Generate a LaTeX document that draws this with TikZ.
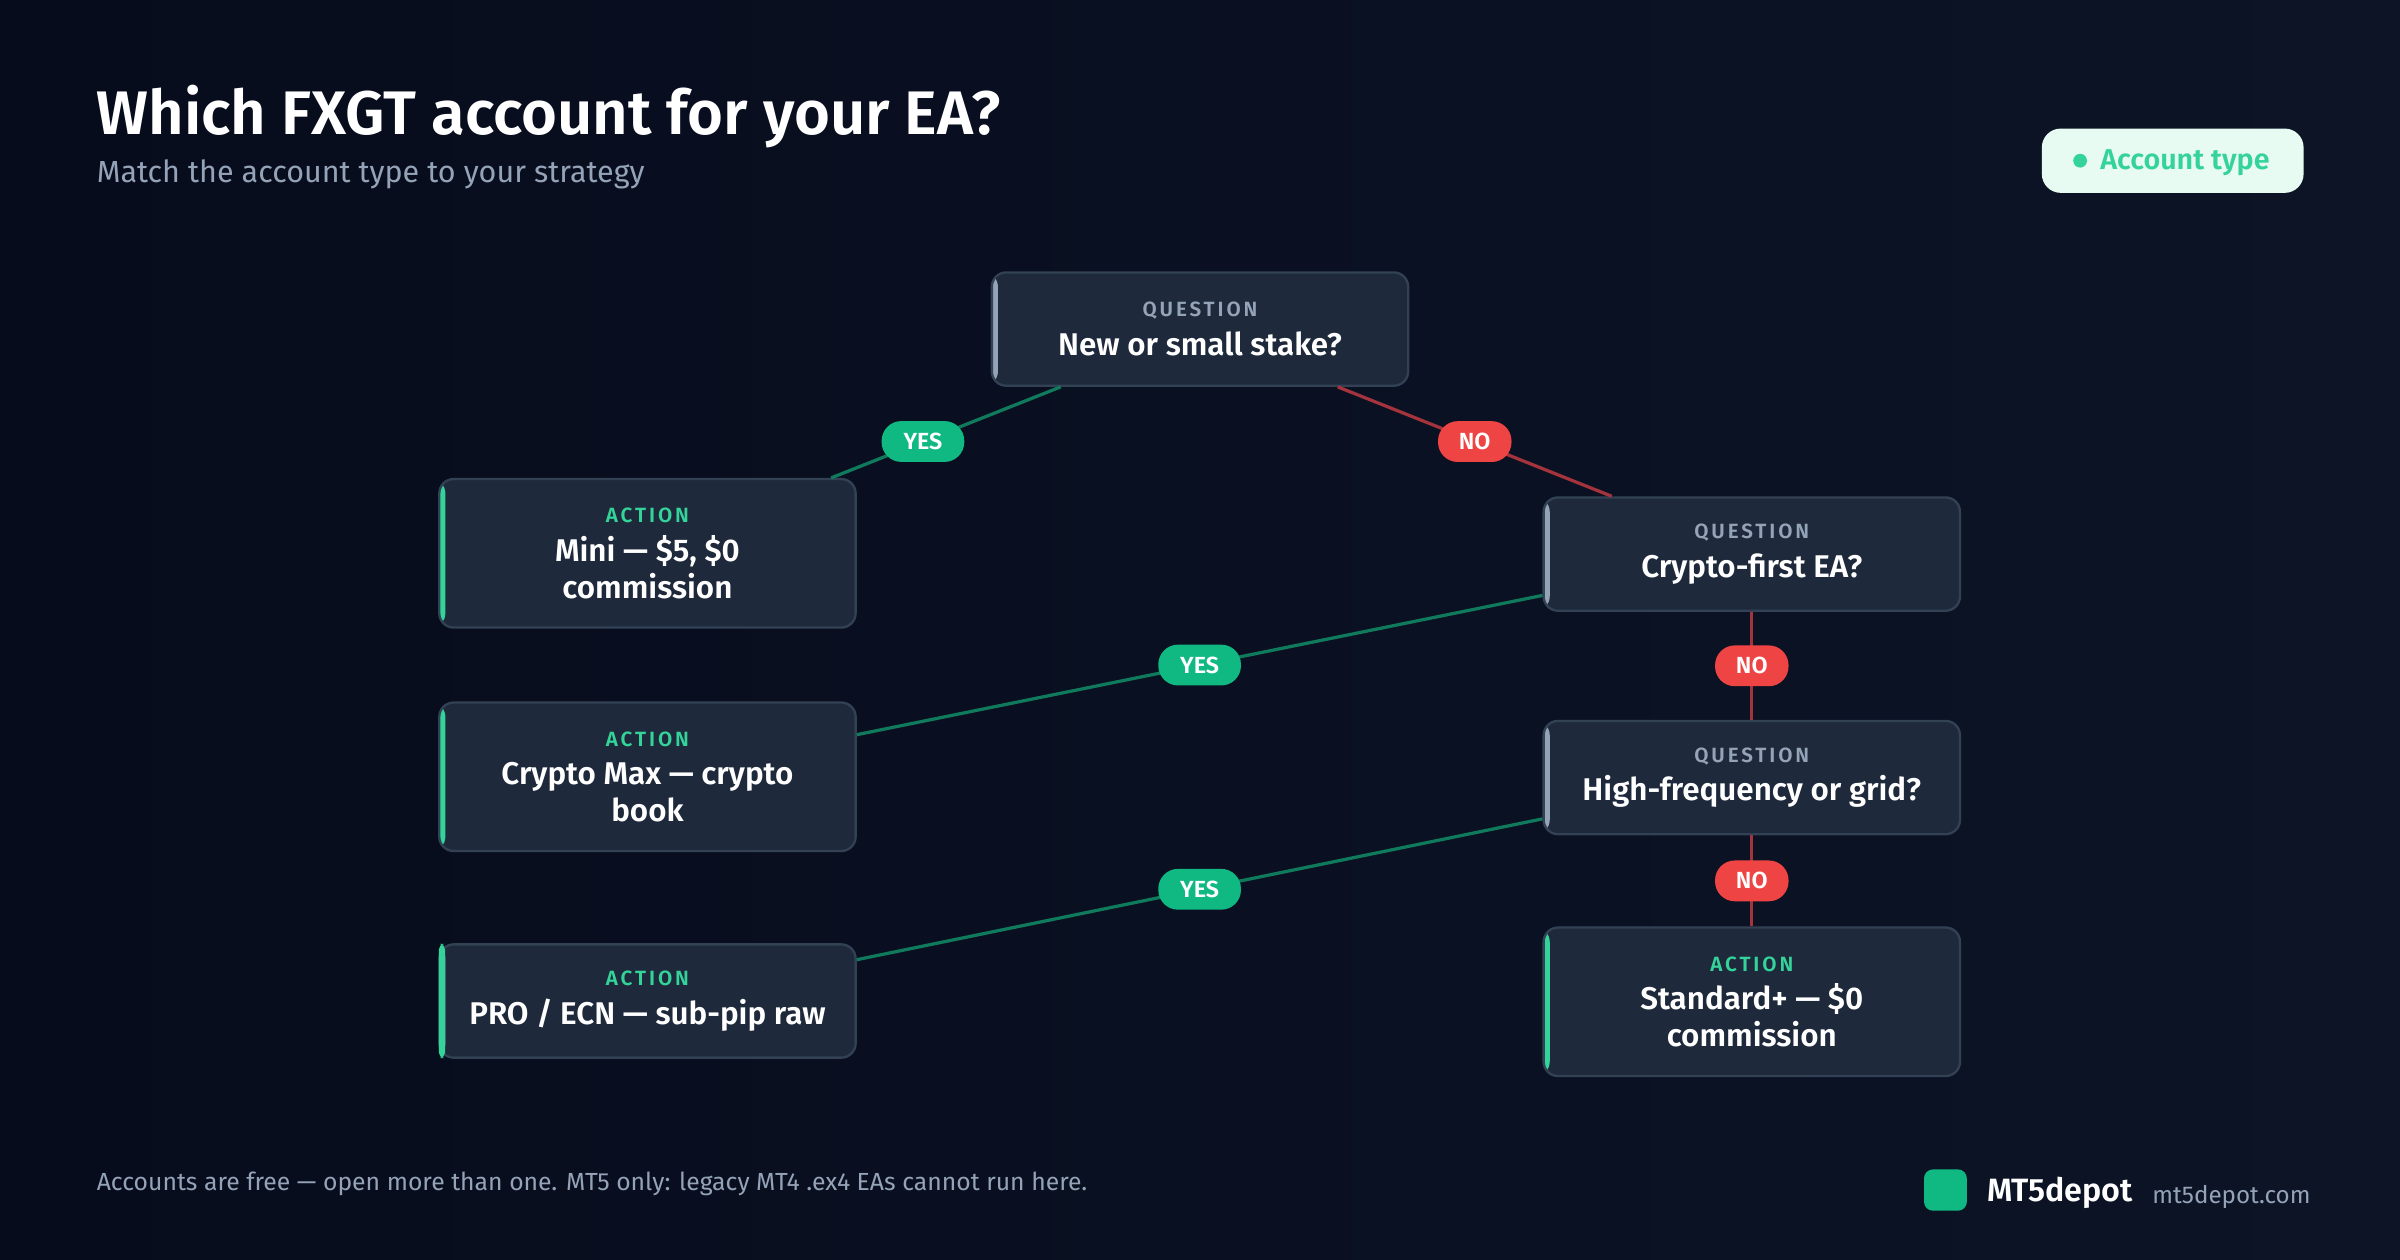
\documentclass[tikz,border=0pt]{standalone}
\usepackage{fontspec}
\setmainfont{Fira Sans}[UprightFont=* Regular, BoldFont=* SemiBold]
\usetikzlibrary{calc}
\definecolor{bgA}{HTML}{070C1C}
\definecolor{bgB}{HTML}{0C1426}
\definecolor{boxfill}{HTML}{1E293B}
\definecolor{boxline}{HTML}{334155}
\definecolor{qacc}{HTML}{94A3B8}
\definecolor{aacc}{HTML}{34D399}
\definecolor{yesline}{HTML}{0F7B5C}
\definecolor{noline}{HTML}{A3333C}
\definecolor{yesfill}{HTML}{10B981}
\definecolor{nofill}{HTML}{EF4444}
\definecolor{subgray}{HTML}{94A3B8}
\definecolor{pillfill}{HTML}{E8FBF3}
\newcommand{\kindlabel}[2]{{\fontsize{11.5}{13}\selectfont\bfseries\addfontfeatures{LetterSpace=14}\color{#1}#2}}
\tikzset{
  box/.style={draw=boxline, line width=1.3pt, fill=boxfill, rounded corners=8pt,
    minimum width=8.16cm, align=center, text=white,
    font=\fontsize{17.5}{20.5}\selectfont\bfseries},
  qbox/.style={box, minimum height=2.22cm,
    path picture={\fill[qacc] (path picture bounding box.south west) rectangle ([xshift=0.12cm]path picture bounding box.north west);}},
  abox/.style={box, minimum height=2.91cm,
    path picture={\fill[aacc] (path picture bounding box.south west) rectangle ([xshift=0.12cm]path picture bounding box.north west);}},
  yes/.style={draw=yesline, line width=1.8pt},
  no/.style={draw=noline, line width=1.8pt},
  badge/.style={rounded corners=11pt, text=white, inner xsep=7pt, inner ysep=0pt,
    minimum height=0.8cm, font=\fontsize{13}{15}\selectfont\bfseries},
  ybadge/.style={badge, fill=yesfill, minimum width=1.62cm},
  nbadge/.style={badge, fill=nofill, minimum width=1.44cm}
}
\begin{document}
\begin{tikzpicture}[x=0.03cm, y=-0.03cm]
  \useasboundingbox (0,0) rectangle (1568,823);
  \shade[left color=bgA, right color=bgB] (0,0) rectangle (1568,823);

  % header
  \node[anchor=base west, inner sep=0, text=white, font=\fontsize{34.3}{39}\selectfont\bfseries] (title) at (63,88) {Which FXGT account for your EA?};
  \node[anchor=base west, inner sep=0, text=subgray, font=\fontsize{17}{20}\selectfont] (subtitle) at (63,119) {Match the account type to your strategy};
  \node[fill=pillfill, rounded corners=10.5pt, minimum width=5.13cm, minimum height=1.26cm] (pill) at (1419.5,105) {};
  \fill[aacc] (1359,105) circle (4.5);
  \node[anchor=west, inner sep=0, text=aacc, font=\fontsize{16}{19}\selectfont\bfseries] (pilltext) at (1372,106) {Account type};

  % nodes
  \node[qbox] (q1) at (784,215) {\kindlabel{qacc}{QUESTION}\\[1pt] New or small stake?};
  \node[abox] (a1) at (423,361.5) {\kindlabel{aacc}{ACTION}\\[1pt] Mini — \$5, \$0\\ commission};
  \node[qbox] (q2) at (1144.5,362) {\kindlabel{qacc}{QUESTION}\\[1pt] Crypto-first EA?};
  \node[abox] (a2) at (423,507.5) {\kindlabel{aacc}{ACTION}\\[1pt] Crypto Max — crypto\\ book};
  \node[qbox] (q3) at (1144.5,508) {\kindlabel{qacc}{QUESTION}\\[1pt] High-frequency or grid?};
  \node[qbox] (a3) at (423,654) {\kindlabel{aacc}{ACTION}\\[1pt] PRO / ECN — sub-pip raw};
  \node[abox] (a4) at (1144.5,654.5) {\kindlabel{aacc}{ACTION}\\[1pt] Standard+ — \$0\\ commission};
  \fill[aacc, rounded corners=3pt] ($(a3.south west)+(0.5,-0.5)$) rectangle ($(a3.north west)+(4.5,0.5)$);

  % connectors
  \path[yes] ($(q1.south)+(-91,0)$) -- ($(a1.north)+(120,0)$) node[ybadge, pos=0.6] (b1) {YES};
  \path[no] ($(q1.south)+(90,0)$) -- ($(q2.north)+(-91.5,0)$) node[nbadge, pos=0.5] (b2) {NO};
  \path[yes] ($(q2.west)+(0,27)$) -- ($(a2.east)+(0,-27.5)$) node[ybadge, pos=0.5] (b3) {YES};
  \path[no] (q2.south) -- (q3.north) node[nbadge, pos=0.5] (b4) {NO};
  \path[yes] ($(q3.west)+(0,27)$) -- ($(a3.east)+(0,-27)$) node[ybadge, pos=0.5] (b5) {YES};
  \path[no] (q3.south) -- (a4.north) node[nbadge, pos=0.5] (b6) {NO};

  % footer
  \node[anchor=base west, inner sep=0, text=subgray, font=\fontsize{13.8}{16}\selectfont] (foot) at (63,778) {Accounts are free — open more than one. MT5 only: legacy MT4 .ex4 EAs cannot run here.};
  \fill[yesfill, rounded corners=5pt] (1257,764) rectangle (1285,791);
  \node[anchor=base west, inner sep=0, text=white, font=\fontsize{18}{21}\selectfont\bfseries] (brand) at (1298,785) {MT5depot};
  \node[anchor=base west, inner sep=0, text=subgray, font=\fontsize{13.5}{16}\selectfont] (url) at (1406,786) {mt5depot.com};
\end{tikzpicture}
\end{document}
